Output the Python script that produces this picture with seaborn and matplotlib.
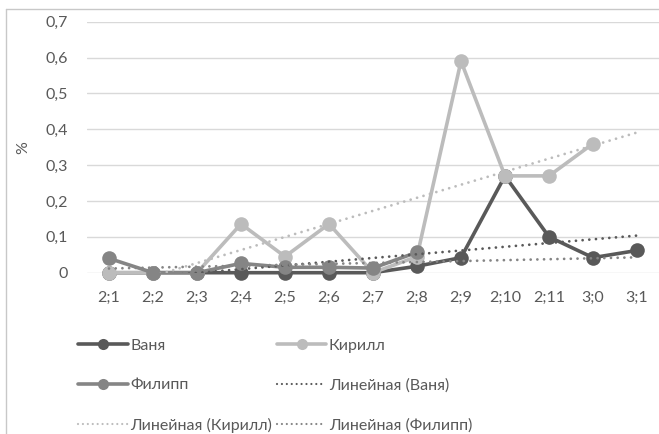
import numpy as np
import pandas as pd
import matplotlib
matplotlib.use("Agg")
import matplotlib.pyplot as plt
from matplotlib.lines import Line2D
import seaborn as sns

# Age points (years;months)
ages = ["2;1", "2;2", "2;3", "2;4", "2;5", "2;6", "2;7", "2;8", "2;9", "2;10", "2;11", "3;0", "3;1"]

# Share of forms per child, %
vanya = [0, 0, 0, 0, 0, 0, 0, 0.018, 0.042, 0.27, 0.10, 0.042, 0.062]
kirill = [0, 0, 0, 0.136, 0.045, 0.136, 0, 0.045, 0.59, 0.27, 0.27, 0.36, np.nan]
filipp = [0.04, 0, 0, 0.026, 0.015, 0.015, 0.013, 0.057, np.nan, np.nan, np.nan, np.nan, np.nan]

names = ["Ваня", "Кирилл", "Филипп"]
series = [vanya, kirill, filipp]
colors = ["#595959", "#bcbcbc", "#858585"]

yticks = [0, 0.1, 0.2, 0.3, 0.4, 0.5, 0.6, 0.7]
ytick_labels = ["0", "0,1", "0,2", "0,3", "0,4", "0,5", "0,6", "0,7"]

sns.set_theme(style="white")
plt.rcParams["font.family"] = ["Lato", "DejaVu Sans"]

fig = plt.figure(figsize=(6.59, 4.34), dpi=100)
ax = fig.add_axes([87 / 659, (434 - 272.7) / 434, 1 - 87 / 659, 251 / 434])

x = np.arange(len(ages))
frames = []
for name, vals in zip(names, series):
    frames.append(pd.DataFrame({"x": x, "y": vals, "child": name}))
df = pd.concat(frames, ignore_index=True)

# Data series: solid lines with round markers
for name, col in zip(names, colors):
    sub = df[df["child"] == name].dropna()
    sns.lineplot(data=sub, x="x", y="y", ax=ax, color=col, linewidth=2.6,
                 marker="o", markersize=10.5, markeredgewidth=0,
                 clip_on=False, zorder=3, legend=False)

# Linear trends, fitted on each child's available points
dot_style = (0, (0.01, 2.4))
for name, col in zip(names, colors):
    sub = df[df["child"] == name].dropna()
    k, b = np.polyfit(sub["x"], sub["y"], 1)
    trend = pd.DataFrame({"x": x, "y": k * x + b})
    sns.lineplot(data=trend, x="x", y="y", ax=ax, color=col, linewidth=2.0,
                 linestyle=dot_style, dash_capstyle="round", zorder=4,
                 legend=False)

ax.set_xlim(-0.5, len(ages) - 0.5)
ax.set_ylim(0, 0.7)
ax.set_xticks(x)
ax.set_xticklabels(ages)
ax.set_yticks(yticks)
ax.set_yticklabels(ytick_labels)
ax.tick_params(axis="both", length=0, labelsize=11.5, colors="#595959")
ax.tick_params(axis="x", pad=13)
ax.tick_params(axis="y", pad=13.5)
ax.yaxis.grid(True, color="#d9d9d9", linewidth=1.0)
ax.xaxis.grid(False)
for s in ax.spines.values():
    s.set_visible(False)
ax.set_xlabel("")
ax.set_ylabel("%", fontsize=11.5, color="#595959")
ax.yaxis.set_label_coords(-0.100, 0.5)

# Legend, filled column by column
trend_names = ["Линейная (Ваня)", "Линейная (Кирилл)", "Линейная (Филипп)"]
h_data = [Line2D([], [], color=c, linewidth=2.6, marker="o", markersize=8,
                 markeredgewidth=0) for c in colors]
h_trend = [Line2D([], [], color=c, linewidth=1.6, linestyle=(0, (0.01, 2.2)),
                  dash_capstyle="round") for c in colors]
handles = [h_data[0], h_data[2], h_trend[1], h_data[1], h_trend[0], h_trend[2]]
labels = [names[0], names[2], trend_names[1], names[1], trend_names[0], trend_names[2]]
leg = fig.legend(handles, labels, ncol=2, loc="upper left",
                 bbox_to_anchor=(72 / 659, 1 - 332 / 434), frameon=False,
                 prop={"family": ["Lato", "DejaVu Sans"], "size": 11.5},
                 labelcolor="#595959",
                 handlelength=3.1, handletextpad=0.15, columnspacing=0.3,
                 labelspacing=1.6, numpoints=1, borderaxespad=0)

# Chart frame (top and left edges)
fig.add_artist(Line2D([5.5 / 659, 5.5 / 659], [0, 1 - 8.5 / 434],
                      transform=fig.transFigure, color="#c8c8c8", linewidth=1))
fig.add_artist(Line2D([5.5 / 659, 1], [1 - 8.5 / 434, 1 - 8.5 / 434],
                      transform=fig.transFigure, color="#c8c8c8", linewidth=1))

fig.savefig("out.png", dpi=100)
